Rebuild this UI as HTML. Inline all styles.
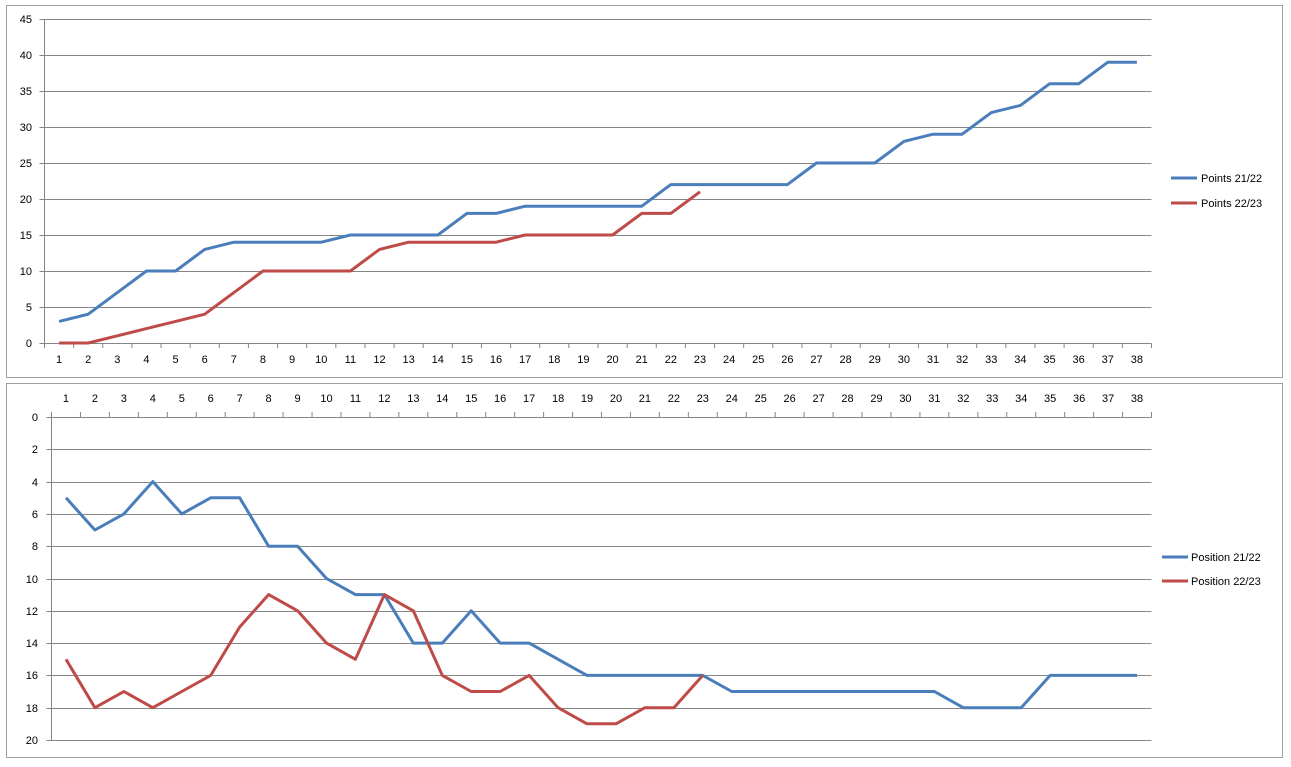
<!DOCTYPE html>
<html><head><meta charset="utf-8"><style>
body{margin:0;background:#fff;font-family:"Liberation Sans",Arial,sans-serif;}
svg text{font-family:"Liberation Sans",Arial,sans-serif;font-size:11px;fill:#000;}
</style></head><body>
<svg id="s" width="1291" height="762" xmlns="http://www.w3.org/2000/svg"></svg>
<script>
var s=document.getElementById('s'),h='';
h+='<rect x="0" y="0" width="1291" height="762" fill="#fff"/>';
h+='<rect x="6.5" y="5.5" width="1276" height="372" fill="#fff" stroke="#a0a0a0"/>';
h+='<rect x="6.5" y="383.5" width="1276" height="374" fill="#fff" stroke="#a0a0a0"/>';
var L=44.5,R=1151.5,Y0=343,dy=36,n=38,sp=(R-L)/n;
for(var i=0;i<=9;i++){var y=Y0-i*dy;h+='<line x1="'+(L-5)+'" x2="'+R+'" y1="'+(y+.5)+'" y2="'+(y+.5)+'" stroke="#868686"/>';h+='<text x="32" y="'+(y+4)+'" text-anchor="end">'+(i*5)+'</text>';}
h+='<line x1="'+L+'" x2="'+L+'" y1="'+(Y0-9*dy)+'" y2="'+(Y0+5)+'" stroke="#868686"/>';
for(var i=0;i<=n;i++){var x=L+i*sp;h+='<line x1="'+x+'" x2="'+x+'" y1="'+(Y0+.5)+'" y2="'+(Y0+5)+'" stroke="#868686"/>';}
for(var i=1;i<=n;i++){h+='<text x="'+(L+(i-.5)*sp)+'" y="'+(Y0+20)+'" text-anchor="middle">'+i+'</text>';}
function line(d,f,c){var p=d.map(function(v,i){return f(i,v)}).join(' ');return '<polyline points="'+p+'" fill="none" stroke="'+c+'" stroke-width="3" stroke-linejoin="round"/>';}
var tb=[3,4,7,10,10,13,14,14,14,14,15,15,15,15,18,18,19,19,19,19,19,22,22,22,22,22,25,25,25,28,29,29,32,33,36,36,39,39];
var tr=[0,0,1,2,3,4,7,10,10,10,10,13,14,14,14,14,15,15,15,15,18,18,21];
var ft=function(i,v){return (L+(i+.5)*sp).toFixed(1)+','+(Y0-v*dy/5).toFixed(1)};
h+=line(tb,ft,'#4a7ebb')+line(tr,ft,'#be4b48');
h+='<line x1="1171" x2="1197" y1="178" y2="178" stroke="#4a7ebb" stroke-width="3"/><text x="1201" y="182">Points 21/22</text>';
h+='<line x1="1171" x2="1197" y1="203" y2="203" stroke="#be4b48" stroke-width="3"/><text x="1201" y="207">Points 22/23</text>';
var L2=51.5,R2=1151.5,T=417,dy2=32.3,sp2=(R2-L2)/n;
for(var i=0;i<=10;i++){var y=Math.round(T+i*dy2);h+='<line x1="'+(L2-5)+'" x2="'+R2+'" y1="'+(y+.5)+'" y2="'+(y+.5)+'" stroke="#868686"/>';h+='<text x="38" y="'+(y+4)+'" text-anchor="end">'+(i*2)+'</text>';}
h+='<line x1="'+L2+'" x2="'+L2+'" y1="'+(T-5)+'" y2="'+(T+10*dy2)+'" stroke="#868686"/>';
for(var i=0;i<=n;i++){var x=L2+i*sp2;h+='<line x1="'+x+'" x2="'+x+'" y1="'+(T-5)+'" y2="'+(T+.5)+'" stroke="#868686"/>';}
for(var i=1;i<=n;i++){h+='<text x="'+(L2+(i-.5)*sp2)+'" y="402" text-anchor="middle">'+i+'</text>';}
var bb=[5,7,6,4,6,5,5,8,8,10,11,11,14,14,12,14,14,15,16,16,16,16,16,17,17,17,17,17,17,17,17,18,18,18,16,16,16,16];
var br=[15,18,17,18,17,16,13,11,12,14,15,11,12,16,17,17,16,18,19,19,18,18,16];
var fb=function(i,v){return (L2+(i+.5)*sp2).toFixed(1)+','+(T+v*dy2/2).toFixed(1)};
h+=line(bb,fb,'#4a7ebb')+line(br,fb,'#be4b48');
h+='<line x1="1162" x2="1188" y1="557" y2="557" stroke="#4a7ebb" stroke-width="3"/><text x="1191" y="561">Position 21/22</text>';
h+='<line x1="1162" x2="1188" y1="581" y2="581" stroke="#be4b48" stroke-width="3"/><text x="1191" y="585">Position 22/23</text>';
s.innerHTML=h;
</script>
</body></html>
